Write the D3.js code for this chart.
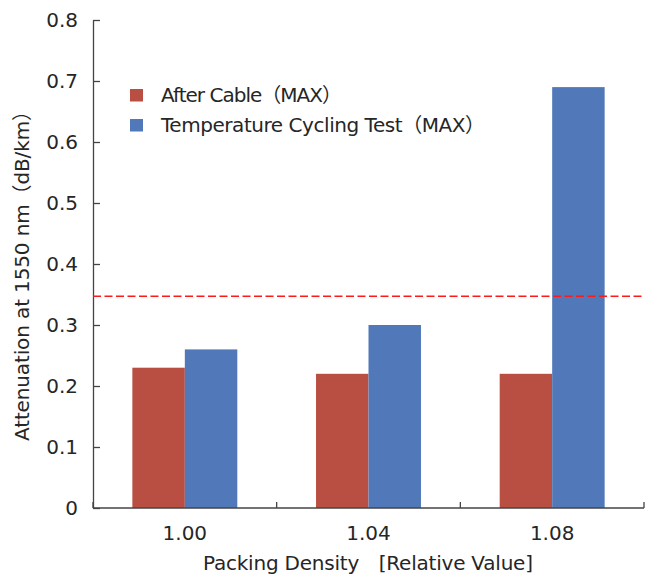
<!DOCTYPE html>
<html>
<head>
<meta charset="utf-8">
<script src="https://cdn.jsdelivr.net/npm/d3@7"></script>
<style>
  html, body { margin: 0; padding: 0; background: #fff; }
  svg text { font-family: "DejaVu Sans", "Noto Sans CJK JP", sans-serif; fill: #262626; }
</style>
</head>
<body>
<svg id="chart" width="656" height="574"></svg>
<script>
// Packing density categories and attenuation values (dB/km)
const categories = ["1.00", "1.04", "1.08"];
const seriesNames = ["After Cable（MAX）", "Temperature Cycling Test（MAX）"];
const afterCable = [0.23, 0.22, 0.22];
const tempCycling = [0.26, 0.30, 0.69];
const yTicks = [0, 0.1, 0.2, 0.3, 0.4, 0.5, 0.6, 0.7, 0.8];
const yTickLabels = ["0", "0.1", "0.2", "0.3", "0.4", "0.5", "0.6", "0.7", "0.8"];
const thresholdValue = 0.347;
const colors = ["#B94F43", "#5179BA"];

const svg = d3.select("#chart");
const plotLeft = 93, plotRight = 644, plotTop = 20, plotBottom = 508;
const fontStack = "'DejaVu Sans', 'Noto Sans CJK JP', sans-serif";
const axisColor = "#444";

const x = d3.scaleBand().domain(categories).range([plotLeft, plotRight]).paddingInner(0).paddingOuter(0);
const inner = d3.scaleBand().domain([0, 1]).range([0, x.bandwidth()]).paddingInner(0).paddingOuter(0.75);
const y = d3.scaleLinear().domain([0, 0.8]).range([plotBottom, plotTop]);

const series = [afterCable, tempCycling];

// Bars
const groups = svg.append("g").selectAll("g")
  .data(categories)
  .join("g")
  .attr("transform", d => `translate(${x(d)},0)`);

groups.selectAll("rect")
  .data((d, i) => series.map((s, k) => ({ k, v: s[i] })))
  .join("rect")
  .attr("x", d => inner(d.k))
  .attr("width", inner.bandwidth())
  .attr("y", d => y(d.v))
  .attr("height", d => y(0) - y(d.v))
  .attr("fill", d => colors[d.k]);

// Y axis, ticks pointing inward
const yAxis = d3.axisLeft(y)
  .tickValues(yTicks)
  .tickFormat((d, i) => yTickLabels[i])
  .tickSizeInner(-7)
  .tickSizeOuter(0)
  .tickPadding(15);
const gy = svg.append("g").attr("transform", `translate(${plotLeft},0)`).call(yAxis);
gy.select(".domain").attr("stroke", axisColor).attr("stroke-width", 1.3);
gy.selectAll(".tick line").attr("stroke", axisColor).attr("stroke-width", 1.3);
gy.selectAll(".tick text").attr("font-size", 20).attr("fill", "#262626")
  .attr("font-family", fontStack);

// X axis with ticks at category boundaries
const gx = svg.append("g").attr("transform", `translate(0,${plotBottom})`);
gx.append("line").attr("x1", plotLeft).attr("x2", plotRight).attr("stroke", axisColor).attr("stroke-width", 1.3);
const boundaries = categories.map(c => x(c)).concat([x(categories[categories.length - 1]) + x.bandwidth()]);
gx.selectAll("line.bt").data(boundaries).join("line").attr("class", "bt")
  .attr("x1", d => d).attr("x2", d => d).attr("y1", 0).attr("y2", -6)
  .attr("stroke", axisColor).attr("stroke-width", 1.3);
gx.selectAll("text").data(categories).join("text")
  .attr("x", d => x(d) + x.bandwidth() / 2)
  .attr("y", 32)
  .attr("text-anchor", "middle")
  .attr("font-size", 20)
  .text(d => d);

// Threshold line
svg.append("line")
  .attr("x1", plotLeft).attr("x2", plotRight)
  .attr("y1", y(thresholdValue)).attr("y2", y(thresholdValue))
  .attr("stroke", "#ff1a1a").attr("stroke-width", 1.5)
  .attr("stroke-dasharray", "8,3.5");

// Legend
const legendWidths = [181, 324];
const legend = svg.append("g").attr("transform", "translate(130,89)");
seriesNames.forEach((name, i) => {
  const g = legend.append("g").attr("transform", `translate(0,${i * 30})`);
  g.append("rect").attr("width", 13).attr("height", 12.5).attr("fill", colors[i]);
  g.append("text").attr("x", 31).attr("y", 12.7).attr("font-size", 20)
    .attr("textLength", legendWidths[i]).attr("lengthAdjust", "spacing")
    .text(name);
});

// Axis titles
svg.append("text")
  .attr("x", 203).attr("y", 569.5)
  .attr("font-size", 20)
  .attr("textLength", 330).attr("lengthAdjust", "spacing")
  .text("Packing Density　[Relative Value]");

svg.append("text")
  .attr("transform", "translate(28.5,441) rotate(-90)")
  .attr("font-size", 20)
  .attr("textLength", 340).attr("lengthAdjust", "spacing")
  .text("Attenuation at 1550 nm（dB/km）");
</script>
</body>
</html>
